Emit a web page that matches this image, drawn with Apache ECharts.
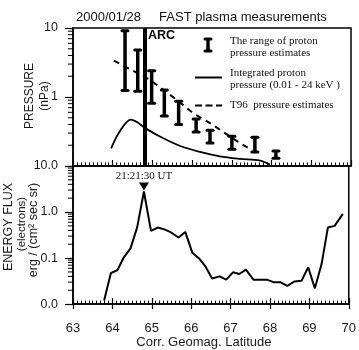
<!DOCTYPE html>
<html>
<head>
<meta charset="utf-8">
<script src="https://cdn.jsdelivr.net/npm/echarts@6/dist/echarts.min.js"></script>
<style>
  html, body { margin: 0; padding: 0; background: #fff; }
  #main { width: 359px; height: 350px; }
</style>
</head>
<body>
<div id="main"></div>
<script>
// proton pressure range estimates (nPa)
var rangeLat  = [64.31, 64.63, 64.98, 65.30, 65.66, 66.10, 66.45, 67.00, 67.58, 68.11];
var rangeLow  = [1.24, 1.21, 0.81, 0.53, 0.40, 0.31, 0.215, 0.175, 0.16, 0.13];
var rangeHigh = [9.1, 4.8, 2.4, 1.26, 0.87, 0.48, 0.33, 0.27, 0.26, 0.165];

// integrated proton pressure (0.01 - 24 keV)
var intLat = [63.96, 64.18, 64.46, 64.62, 64.80, 65.20, 65.70, 66.20, 66.70, 67.20, 67.71, 67.96];
var intVal = [0.18, 0.32, 0.47, 0.43, 0.36, 0.265, 0.195, 0.16, 0.138, 0.127, 0.12, 0.105];

// T96 pressure estimates
var t96Lat = [64.03, 64.94, 65.62, 66.02, 66.45, 67.13, 67.51];
var t96Val = [3.37, 1.77, 0.90, 0.585, 0.418, 0.229, 0.169];

// electron energy flux
var fluxLat = [63.79, 63.96, 64.13, 64.29, 64.46, 64.63, 64.80, 64.98, 65.15, 65.32, 65.49, 65.68,
               65.85, 66.03, 66.20, 66.37, 66.53, 66.72, 66.89, 67.06, 67.22, 67.39, 67.58, 67.75,
               67.92, 68.09, 68.26, 68.44, 68.62, 68.80, 68.97, 69.14, 69.31, 69.47, 69.64, 69.85];
var fluxVal = [0.012, 0.047, 0.055, 0.104, 0.162, 0.47, 2.8, 0.39, 0.46, 0.42, 0.36, 0.28,
               0.37, 0.13, 0.098, 0.064, 0.036, 0.040, 0.034, 0.049, 0.045, 0.056, 0.034, 0.034,
               0.034, 0.030, 0.030, 0.025, 0.031, 0.032, 0.063, 0.022, 0.074, 0.46, 0.50, 0.91];

var arcLat = 64.80;
var peakLat = 64.80, peakVal = 2.8;

// tick labels
var topLabels = { '1': '10', '0': '1', '-1': '' };
var botLabels = { '1': '10.0', '0': '1.0', '-1': '0.1', '-2': '0.0' };
var topMinor = [0.2, 0.3, 0.4, 0.5, 0.6, 0.7, 0.8, 0.9, 2, 3, 4, 5, 6, 7, 8, 9];
var botMinor = [0.02, 0.03, 0.04, 0.05, 0.06, 0.07, 0.08, 0.09].concat(topMinor);

var sans = 'Liberation Sans, Arial, sans-serif';
var serif = 'Liberation Serif, Times New Roman, serif';

var chart = echarts.init(document.getElementById('main'));

function zip(a, b) {
    var out = [];
    for (var i = 0; i < a.length; i++) out.push([a[i], b[i]]);
    return out;
}

var rangeData = [];
for (var i = 0; i < rangeLat.length; i++) {
    rangeData.push([rangeLat[i], rangeLow[i], rangeHigh[i]]);
}

function minorTicks(vals) {
    return vals.map(function (v) { return [63, v]; });
}

function tickItem(params, api) {
    var p = api.coord([api.value(0), api.value(1)]);
    return {
        type: 'line',
        shape: { x1: p[0] - 5, y1: p[1], x2: p[0], y2: p[1] },
        style: { stroke: '#000', lineWidth: 1 }
    };
}

function xAxisBase(grid) {
    return {
        type: 'value', gridIndex: grid, min: 63, max: 70, interval: 1,
        axisLine: { lineStyle: { color: '#000', width: 1.5 } },
        axisTick: { inside: true, length: 6, lineStyle: { color: '#000', width: 1.2 } },
        minorTick: { show: true, splitNumber: 10, length: 3.5, lineStyle: { color: '#000', width: 1 } },
        splitLine: { show: false },
        axisLabel: { show: false }
    };
}

var xTop = xAxisBase(0);
var xBot = xAxisBase(1);
xBot.axisLabel = { show: true, margin: 18, fontSize: 13, color: '#1a1a1a', fontFamily: sans };
xBot.name = 'Corr. Geomag. Latitude';
xBot.nameLocation = 'middle';
xBot.nameGap = 31;
xBot.nameTextStyle = { fontSize: 13, color: '#1a1a1a', fontFamily: sans, padding: [0, 14, 0, 0] };
// outward major ticks on the bottom axis
var xBotOut = {
    type: 'value', gridIndex: 1, min: 63, max: 70, interval: 1, position: 'bottom',
    axisLine: { show: false },
    axisTick: { inside: false, length: 5, lineStyle: { color: '#000', width: 1.2 } },
    splitLine: { show: false },
    axisLabel: { show: false }
};

function yAxisBase(grid, min, labels) {
    return {
        type: 'log', logBase: 10, gridIndex: grid, min: min, max: 10,
        axisLine: { show: true, lineStyle: { color: '#000', width: 1.5 } },
        axisTick: { show: true, inside: false, length: 8, lineStyle: { color: '#000', width: 1.2 } },
        splitLine: { show: false },
        axisLabel: {
            margin: 15, fontSize: 12.5, color: '#1a1a1a', fontFamily: sans,
            formatter: function (v) {
                var k = Math.round(Math.log(v) / Math.LN10);
                return labels[k] !== undefined ? labels[k] : '';
            }
        }
    };
}

function vText(text, x, y, size) {
    return {
        type: 'text', x: x, y: y, rotation: Math.PI / 2,
        style: { text: text, font: size + 'px ' + sans, fill: '#1a1a1a', align: 'center', verticalAlign: 'middle' }
    };
}

function legendText(text, x, y) {
    return {
        type: 'text', x: x, y: y,
        style: { text: text, font: '11px ' + serif, fill: '#111', verticalAlign: 'middle' }
    };
}

var option = {
    animation: false,
    backgroundColor: '#fff',
    title: {
        text: '2000/01/28     FAST plasma measurements',
        left: 71, top: 6,
        textStyle: { fontSize: 13, fontWeight: 'normal', color: '#111', fontFamily: sans }
    },
    grid: [
        { left: 73, top: 28, right: 8, height: 138, show: true, borderColor: '#000', borderWidth: 1.5 },
        { left: 73, top: 166, right: 8, height: 139.5, show: true, borderColor: '#000', borderWidth: 1.5 }
    ],
    xAxis: [xTop, xBot, xBotOut],
    yAxis: [yAxisBase(0, 0.1, topLabels), yAxisBase(1, 0.01, botLabels)],
    graphic: [
        vText('PRESSURE', 29.5, 96, 12),
        vText('(nPa)', 45, 96, 12),
        vText('ENERGY FLUX', 8.5, 227, 12.5),
        vText('(electrons)', 22, 224, 11.5),
        vText('erg / (cm² sec sr)', 34, 230, 12.5),
        { type: 'text', x: 148, y: 36,
          style: { text: 'ARC', font: 'bold 12.5px ' + sans, fill: '#000', verticalAlign: 'middle' } },
        // legend
        { type: 'line', shape: { x1: 208, y1: 38.5, x2: 208, y2: 51.5 }, style: { stroke: '#000', lineWidth: 3.5 } },
        { type: 'line', shape: { x1: 205, y1: 39, x2: 211, y2: 39 }, style: { stroke: '#000', lineWidth: 3, lineCap: 'round' } },
        { type: 'line', shape: { x1: 205, y1: 51, x2: 211, y2: 51 }, style: { stroke: '#000', lineWidth: 3, lineCap: 'round' } },
        legendText('The range of proton', 230, 41.5),
        legendText('pressure estimates', 230, 53),
        { type: 'line', shape: { x1: 195, y1: 77.5, x2: 222, y2: 77.5 }, style: { stroke: '#000', lineWidth: 2 } },
        legendText('Integrated proton', 230, 73),
        legendText('pressure (0.01 - 24 keV )', 230, 85),
        { type: 'line', shape: { x1: 195, y1: 105.5, x2: 222, y2: 105.5 }, style: { stroke: '#000', lineWidth: 2, lineDash: [7, 3.5] } },
        legendText('T96  pressure estimates', 230, 105)
    ],
    series: [
        {
            name: 'The range of proton pressure estimates',
            type: 'custom', xAxisIndex: 0, yAxisIndex: 0,
            encode: { x: 0, y: [1, 2] },
            data: rangeData,
            renderItem: function (params, api) {
                var pHi = api.coord([api.value(0), api.value(2)]);
                var pLo = api.coord([api.value(0), api.value(1)]);
                var st = { stroke: '#000', lineWidth: 3, lineCap: 'round' };
                return {
                    type: 'group',
                    children: [
                        { type: 'line', shape: { x1: pHi[0], y1: pHi[1], x2: pLo[0], y2: pLo[1] }, style: { stroke: '#000', lineWidth: 3.5 } },
                        { type: 'line', shape: { x1: pHi[0] - 3, y1: pHi[1], x2: pHi[0] + 3, y2: pHi[1] }, style: st },
                        { type: 'line', shape: { x1: pLo[0] - 3, y1: pLo[1], x2: pLo[0] + 3, y2: pLo[1] }, style: st }
                    ]
                };
            }
        },
        {
            name: 'Integrated proton pressure',
            type: 'line', xAxisIndex: 0, yAxisIndex: 0,
            data: zip(intLat, intVal),
            showSymbol: false, symbol: 'none', smooth: 0.35,
            lineStyle: { color: '#000', width: 1.8 },
            markLine: {
                silent: true, symbol: 'none',
                label: { show: false },
                lineStyle: { color: '#000', width: 4, type: 'solid' },
                data: [{ xAxis: arcLat }]
            }
        },
        {
            name: 'T96 pressure estimates',
            type: 'line', xAxisIndex: 0, yAxisIndex: 0,
            data: zip(t96Lat, t96Val),
            showSymbol: false, symbol: 'none',
            lineStyle: { color: '#000', width: 2, type: [6, 5] }
        },
        {
            name: 'Energy flux',
            type: 'line', xAxisIndex: 1, yAxisIndex: 1,
            data: zip(fluxLat, fluxVal),
            showSymbol: false, symbol: 'none',
            lineStyle: { color: '#000', width: 2 },
            markPoint: {
                symbol: 'path://M0,0 L10,0 L5,8 Z',
                symbolSize: [10, 8],
                symbolOffset: [0, -5],
                itemStyle: { color: '#000' },
                label: {
                    show: true, position: 'top', distance: 1,
                    formatter: '21:21:30 UT',
                    color: '#111', fontFamily: serif, fontSize: 11
                },
                data: [{ coord: [peakLat, peakVal] }]
            }
        },
        {
            type: 'custom', xAxisIndex: 0, yAxisIndex: 0, silent: true,
            data: minorTicks(topMinor), renderItem: tickItem
        },
        {
            type: 'custom', xAxisIndex: 1, yAxisIndex: 1, silent: true,
            data: minorTicks(botMinor), renderItem: tickItem
        }
    ]
};

chart.setOption(option);
</script>
</body>
</html>
